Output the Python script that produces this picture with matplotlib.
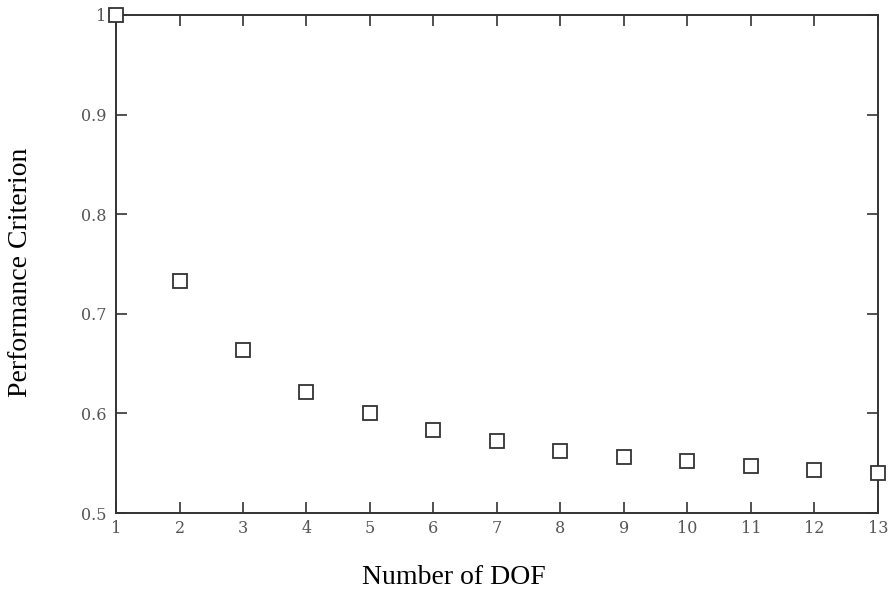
import matplotlib
matplotlib.use("Agg")
import matplotlib.pyplot as plt

dof = [1, 2, 3, 4, 5, 6, 7, 8, 9, 10, 11, 12, 13]
criterion = [1.0, 0.733, 0.664, 0.621, 0.600, 0.583, 0.572, 0.562, 0.556, 0.552, 0.547, 0.543, 0.540]
yticks = [0.5, 0.6, 0.7, 0.8, 0.9, 1.0]
ytick_labels = ["0.5", "0.6", "0.7", "0.8", "0.9", "1"]

fig = plt.figure(figsize=(8.93, 5.95), dpi=100)
ax = fig.add_axes([0.1299, 0.1378, 0.8533, 0.8370])

ax.plot(dof, criterion, linestyle="none", marker="s", markersize=9.5,
        markerfacecolor="white", markeredgecolor="#333333", markeredgewidth=1.3,
        clip_on=False, zorder=5)

ax.set_xlim(1, 13)
ax.set_ylim(0.5, 1.0)
ax.set_xticks(dof)
ax.set_yticks(yticks)
ax.set_yticklabels(ytick_labels)

for s in ax.spines.values():
    s.set_linewidth(1.4)
    s.set_color("#333333")

ax.tick_params(direction="in", length=8, width=1.2, color="#333333",
               top=True, right=True, labelsize=11.5, labelcolor="#555555")
ax.tick_params(axis="y", pad=7)
ax.tick_params(axis="x", pad=5)
for lab in ax.get_xticklabels() + ax.get_yticklabels():
    lab.set_family("DejaVu Serif")

ax.set_xlabel("Number of DOF", family="Liberation Serif", fontsize=20, va="center", ha="center")
ax.xaxis.set_label_coords(0.4436, -0.1285)
ax.set_ylabel("Performance Criterion", family="Liberation Serif", fontsize=20, va="center", ha="center")
ax.yaxis.set_label_coords(-0.1250, 0.484)

fig.savefig("out.png", dpi=100)
